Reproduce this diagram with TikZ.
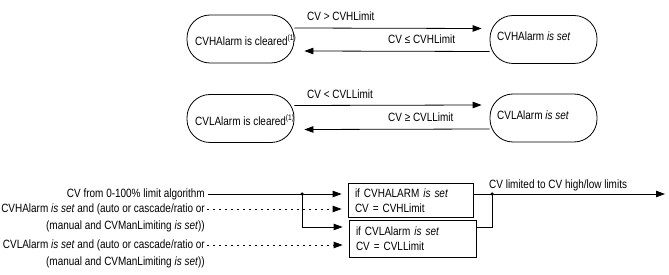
\documentclass[tikz,border=0pt]{standalone}
\usepackage{fontspec}
\setmainfont{Liberation Sans}[FakeStretch=0.83]
\usetikzlibrary{arrows.meta}
\begin{document}
\begin{tikzpicture}[x=1pt,y=-1pt,
  every node/.style={font=\fontsize{12}{15}\selectfont, inner sep=0pt},
  oval/.style={draw, line width=0.8pt, rounded corners=23pt, minimum width=107pt, minimum height=48pt},
  txt/.style={anchor=west},
  lbl/.style={anchor=base west},
  ltxt/.style={anchor=east},
  box/.style={draw, line width=0.8pt, align=left, inner xsep=7pt},
  arr/.style={-{Triangle[length=9pt,width=6.5pt]}, line width=0.8pt},
  dashline/.style={-{Triangle[length=9pt,width=6.5pt]}, line width=0.8pt, dash pattern=on 2pt off 4pt},
  plain/.style={line width=0.8pt},
  dot/.style={circle, fill, inner sep=0pt, minimum size=3.5pt}
]
\useasboundingbox (0,0) rectangle (669,275);

% --- high alarm state machine
\node[oval] (o1) at (240.5,39) {};
\node[txt] (o1t) at (195,40) {CVHAlarm is cleared\textsuperscript{(1)}};
\node[oval] (o2) at (543.5,39.5) {};
\node[txt] (o2t) at (497,36) {CVHAlarm \emph{is set}};
\draw[arr] ([yshift=11pt]o1.east) -- ([yshift=11pt,xshift=-8pt]o2.west);
\draw[arr] ([yshift=-12pt]o2.west) -- ([yshift=-12pt,xshift=10pt]o1.east);
\node[lbl] (l1) at (307,21) {CV > CVHLimit};
\node[lbl] (l2) at (388,44) {CV ≤ CVHLimit};

% --- low alarm state machine
\node[oval] (o3) at (240.5,118.5) {};
\node[txt] (o3t) at (195,120) {CVLAlarm is cleared\textsuperscript{(1)}};
\node[oval] (o4) at (543.5,118) {};
\node[txt] (o4t) at (497,115) {CVLAlarm \emph{is set}};
\draw[arr] ([yshift=13pt]o3.east) -- ([yshift=13pt,xshift=-8pt]o4.west);
\draw[arr] ([yshift=-11pt]o4.west) -- ([yshift=-11pt,xshift=10pt]o3.east);
\node[lbl] (l3) at (307,99) {CV < CVLLimit};
\node[lbl] (l4) at (388,122) {CV ≥ CVLLimit};

% --- limiting logic
\node[ltxt] (t1) at (205,194) {CV from 0-100\% limit algorithm};
\node[ltxt] (t2a) at (205,209) {CVHAlarm \emph{is set} and (auto or cascade/ratio or};
\node[ltxt] (t2b) at (205,226) {(manual and CVManLimiting \emph{is set}))};
\node[ltxt] (t3a) at (205,245) {CVLAlarm \emph{is set} and (auto or cascade/ratio or};
\node[ltxt] (t3b) at (205,262) {(manual and CVManLimiting \emph{is set}))};

\node[box, minimum width=125pt, minimum height=34pt, text width=111pt] (b1) at (410.5,200.5)
  {if CVHALARM \emph{is set}\\CV = CVHLimit};
\node[box, minimum width=127pt, minimum height=37pt, text width=113pt] (b2) at (412.5,238.5)
  {if CVLAlarm \emph{is set}\\CV = CVLLimit};

\coordinate (j1) at (302,194);
\node[dot] (d1) at (j1) {};
\draw[arr, shorten <=3pt, shorten >=6pt] (t1.east) -- (b1.west |- t1.east);
\draw[dashline, shorten <=2pt, shorten >=6pt] (t2a.east) -- (b1.west |- t2a.east);
\draw[arr, shorten >=6pt] (j1) |- ([yshift=11.5pt]b2.west);
\draw[dashline, shorten <=2pt, shorten >=6pt] (t3a.east) -- (b2.west |- t3a.east);

\coordinate (j2) at (492,194);
\node[dot] (d2) at (j2) {};
\coordinate (out) at (665,194);
\draw[plain] (b1.east |- j2) -- (j2);
\draw[plain] ([yshift=11.5pt]b2.east) -| (j2);
\draw[arr] (j2) -- (out);
\node[lbl] (lo) at (489,189) {CV limited to CV high/low limits};
\end{tikzpicture}
\end{document}
